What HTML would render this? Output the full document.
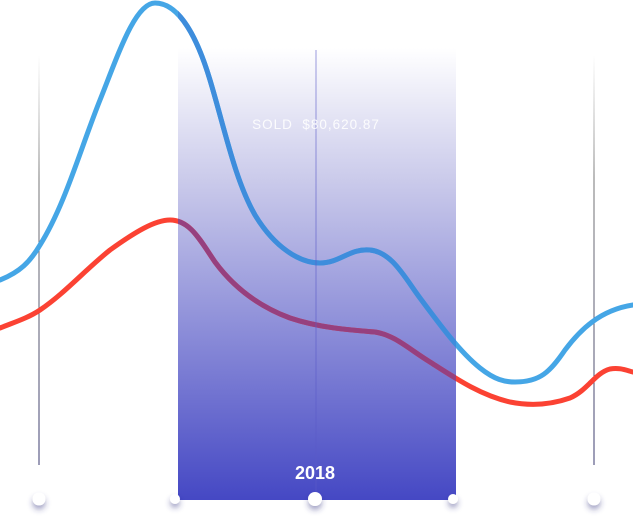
<!DOCTYPE html>
<html><head><meta charset="utf-8"><style>
html,body{margin:0;padding:0;background:#fff;width:633px;height:520px;overflow:hidden}
</style></head><body>
<svg width="633" height="520" viewBox="0 0 633 520" xmlns="http://www.w3.org/2000/svg">
<defs>
<linearGradient id="g" x1="0" y1="0" x2="0" y2="1">
<stop offset="0" stop-color="#ffffff"/>
<stop offset="0.3" stop-color="#c9c9ea"/>
<stop offset="1" stop-color="#4548c4"/>
</linearGradient>
<linearGradient id="vl" x1="0" y1="0" x2="0" y2="1">
<stop offset="0" stop-color="#666" stop-opacity="0"/>
<stop offset="0.3" stop-color="#555" stop-opacity="0.8"/>
<stop offset="1" stop-color="#3a3a70" stop-opacity="1"/>
</linearGradient>
<clipPath id="band"><rect x="178" y="0" width="278" height="520"/></clipPath>
<filter id="sh" x="-100%" y="-100%" width="300%" height="300%">
<feDropShadow dx="0" dy="4" stdDeviation="3" flood-color="#303080" flood-opacity="0.45"/>
</filter>
<path id="bl" d="M0,280 C20,272 30,262 40,245 C65,205 80,150 100,100 C118,55 135,3 155,3 C180,3 198,40 210,80 C225,130 235,180 255,215 C275,248 300,263 320,263 C340,263 350,248 370,250 C392,252 405,278 420,298 C440,325 460,352 480,368 C495,380 505,382 515,382 C540,382 550,372 565,350 C580,330 600,310 633,305"/>
<path id="rd" d="M0,328 C15,322 28,318 40,310 C65,293 85,270 110,250 C135,232 155,220 170,220 C190,220 200,240 215,262 C232,285 255,305 290,318 C320,328 350,330 375,332 C395,335 410,350 430,362 C455,378 480,395 510,402 C530,406 550,405 570,398 C588,390 595,373 610,369 C620,367 628,371 633,372"/>
</defs>
<rect x="38.5" y="55" width="1" height="410" fill="url(#vl)"/>
<rect x="593.5" y="55" width="1" height="410" fill="url(#vl)"/>
<rect x="178" y="48" width="278" height="452" fill="url(#g)"/>
<use href="#bl" fill="none" stroke="#45a6e6" stroke-width="5" stroke-linecap="round"/>
<use href="#rd" fill="none" stroke="#fb4233" stroke-width="5" stroke-linecap="round"/>
<g clip-path="url(#band)">
<use href="#bl" fill="none" stroke="#3e8ddc" stroke-width="5"/>
<use href="#rd" fill="none" stroke="#96407f" stroke-width="5"/>
</g>
<line x1="316" y1="50" x2="316" y2="500" stroke="#5a5ac8" stroke-width="1" opacity="0.6"/>
<text x="316" y="129" text-anchor="middle" font-family="Liberation Sans, sans-serif" font-size="13.5" letter-spacing="1" fill="#ffffff" opacity="0.9" xml:space="preserve">SOLD  $80,620.87</text>
<text x="315" y="479" text-anchor="middle" font-family="Liberation Sans, sans-serif" font-size="18" font-weight="bold" fill="#ffffff">2018</text>
<g fill="#ffffff" filter="url(#sh)">
<circle cx="39" cy="499" r="6.5"/>
<circle cx="175" cy="499" r="5"/>
<circle cx="315" cy="499" r="7"/>
<circle cx="453" cy="499" r="5"/>
<circle cx="594" cy="499" r="6.5"/>
</g>
</svg>
</body></html>
